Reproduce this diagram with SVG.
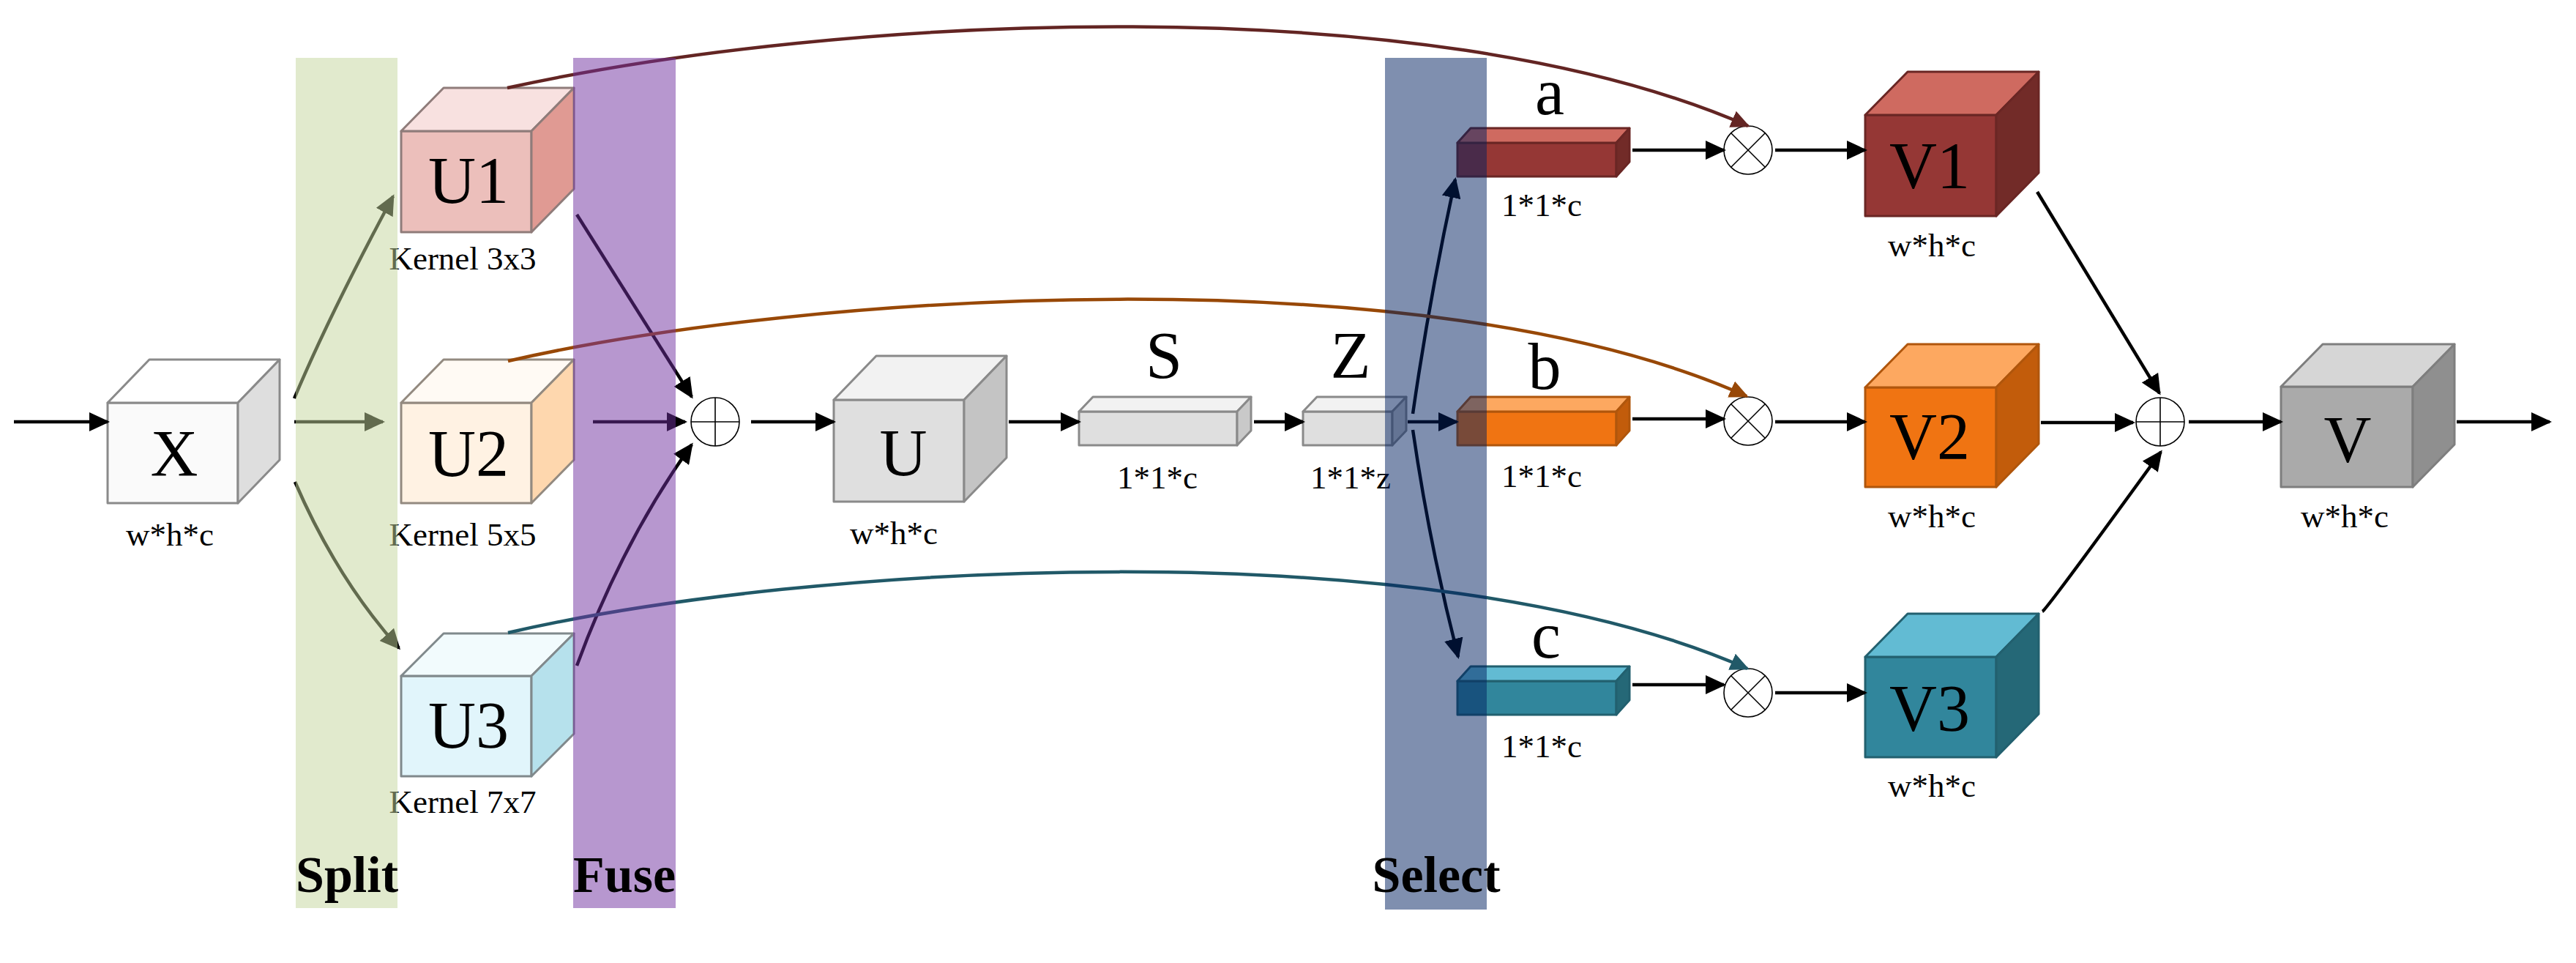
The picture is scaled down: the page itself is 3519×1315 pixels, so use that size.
<svg xmlns="http://www.w3.org/2000/svg" width="3519" height="1315" viewBox="0 0 3519 1315">
<defs>
<style>
.big{font-family:"Liberation Serif","Times New Roman",serif;font-size:90px;text-anchor:middle;fill:#000}
.small{font-family:"Liberation Serif","Times New Roman",serif;font-size:45px;text-anchor:middle;fill:#000}
.stage{font-family:"Liberation Serif","Times New Roman",serif;font-size:70px;font-weight:bold;text-anchor:middle;fill:#000}
.cube polygon,.cube rect{stroke-width:3;stroke-linejoin:round}
.grey polygon,.grey rect{stroke:#8a8a8a}
.arr{fill:none;stroke:#000;stroke-width:4.5;marker-end:url(#ah)}
.curve{fill:none;stroke-width:4.5}
.op{fill:#fff;stroke:#000;stroke-width:1.6}
.opl{stroke:#000;stroke-width:1.6}
.band{opacity:0.5}
</style>
<marker id="ah" markerUnits="userSpaceOnUse" markerWidth="28" markerHeight="26" refX="25" refY="13" orient="auto" viewBox="0 0 28 26"><path d="M0,0 L28,13 L0,26 z" fill="#000"/></marker>
<marker id="ahR" markerUnits="userSpaceOnUse" markerWidth="26" markerHeight="24" refX="23" refY="12" orient="auto" viewBox="0 0 26 24"><path d="M0,0 L26,12 L0,24 z" fill="#632523"/></marker>
<marker id="ahO" markerUnits="userSpaceOnUse" markerWidth="26" markerHeight="24" refX="23" refY="12" orient="auto" viewBox="0 0 26 24"><path d="M0,0 L26,12 L0,24 z" fill="#984807"/></marker>
<marker id="ahT" markerUnits="userSpaceOnUse" markerWidth="26" markerHeight="24" refX="23" refY="12" orient="auto" viewBox="0 0 26 24"><path d="M0,0 L26,12 L0,24 z" fill="#215968"/></marker>
</defs>
<rect width="3519" height="1315" fill="#fff"/>

<g id="node-X" class="cube grey">
<rect x="147" y="550" width="178" height="137" fill="#fafafa"/>
<polygon points="147,550 204,491 382,491 325,550" fill="#ffffff"/>
<polygon points="325,550 382,491 382,628 325,687" fill="#dedede"/>
<text class="big" x="238" y="650">X</text>
<text class="small" x="232" y="745">w*h*c</text>
</g>

<g id="node-U1" class="cube">
<rect x="548" y="179" width="178" height="138" fill="#ecbfbb" stroke="#8f7c7a"/>
<polygon points="548,179 606,120 784,120 726,179" fill="#f8e1e0" stroke="#8f7c7a"/>
<polygon points="726,179 784,120 784,258 726,317" fill="#e09a93" stroke="#8f7c7a"/>
<text class="big" x="640" y="277">U1</text>
<text class="small" x="632" y="368">Kernel 3x3</text>
</g>

<g id="node-U2" class="cube">
<rect x="548" y="550" width="178" height="137" fill="#fff2e3" stroke="#938a80"/>
<polygon points="548,550 606,491 784,491 726,550" fill="#fffaf4" stroke="#938a80"/>
<polygon points="726,550 784,491 784,628 726,687" fill="#fed7ae" stroke="#938a80"/>
<text class="big" x="640" y="650">U2</text>
<text class="small" x="632" y="745">Kernel 5x5</text>
</g>

<g id="node-U3" class="cube">
<rect x="548" y="923" width="178" height="137" fill="#e1f5fb" stroke="#80898c"/>
<polygon points="548,923 606,865 784,865 726,923" fill="#f2fbfd" stroke="#80898c"/>
<polygon points="726,923 784,865 784,1002 726,1060" fill="#b6e1ec" stroke="#80898c"/>
<text class="big" x="640" y="1021">U3</text>
<text class="small" x="632" y="1110">Kernel 7x7</text>
</g>

<g id="node-fuse-sum">
<circle class="op" cx="977" cy="576" r="33"/>
<line class="opl" x1="944" y1="576" x2="1010" y2="576"/>
<line class="opl" x1="977" y1="543" x2="977" y2="609"/>
</g>

<g id="node-U" class="cube grey">
<rect x="1139" y="546" width="178" height="139" fill="#dfdfdf"/>
<polygon points="1139,546 1197,486 1375,486 1317,546" fill="#f2f2f2"/>
<polygon points="1317,546 1375,486 1375,625 1317,685" fill="#c4c4c4"/>
<text class="big" x="1234" y="649">U</text>
<text class="small" x="1221" y="743">w*h*c</text>
</g>

<g id="node-S" class="cube grey">
<rect x="1474" y="562" width="216" height="46" fill="#dfdfdf"/>
<polygon points="1474,562 1493,542 1709,542 1690,562" fill="#f2f2f2"/>
<polygon points="1690,562 1709,542 1709,588 1690,608" fill="#c9c9c9"/>
<text class="big" x="1590" y="516">S</text>
<text class="small" x="1581" y="667">1*1*c</text>
</g>

<g id="node-Z" class="cube grey">
<rect x="1780" y="562" width="122" height="46" fill="#dfdfdf"/>
<polygon points="1780,562 1799,542 1921,542 1902,562" fill="#f2f2f2"/>
<polygon points="1902,562 1921,542 1921,588 1902,608" fill="#c9c9c9"/>
<text class="big" x="1845" y="516">Z</text>
<text class="small" x="1845" y="667">1*1*z</text>
</g>

<g id="node-a" class="cube">
<rect x="1991" y="195" width="217" height="46" fill="#953735" stroke="#6a2624"/>
<polygon points="1991,195 2009,175 2226,175 2208,195" fill="#cf6a60" stroke="#6a2624"/>
<polygon points="2208,195 2226,175 2226,221 2208,241" fill="#722b28" stroke="#6a2624"/>
<text class="big" x="2117" y="156">a</text>
<text class="small" x="2106" y="295">1*1*c</text>
</g>

<g id="node-b" class="cube">
<rect x="1991" y="562" width="217" height="46" fill="#f07412" stroke="#b0560c"/>
<polygon points="1991,562 2009,542 2226,542 2208,562" fill="#fda860" stroke="#b0560c"/>
<polygon points="2208,562 2226,542 2226,588 2208,608" fill="#c25c0b" stroke="#b0560c"/>
<text class="big" x="2110" y="531">b</text>
<text class="small" x="2106" y="665">1*1*c</text>
</g>

<g id="node-c" class="cube">
<rect x="1991" y="930" width="217" height="46" fill="#31869c" stroke="#22606f"/>
<polygon points="1991,930 2009,910 2226,910 2208,930" fill="#62bbd3" stroke="#22606f"/>
<polygon points="2208,930 2226,910 2226,956 2208,976" fill="#256877" stroke="#22606f"/>
<text class="big" x="2112" y="898">c</text>
<text class="small" x="2106" y="1034">1*1*c</text>
</g>

<g id="node-mul-a">
<circle class="op" cx="2388" cy="205" r="33"/>
<line class="opl" x1="2365" y1="182" x2="2411" y2="228"/>
<line class="opl" x1="2411" y1="182" x2="2365" y2="228"/>
</g>
<g id="node-mul-b">
<circle class="op" cx="2388" cy="575" r="33"/>
<line class="opl" x1="2365" y1="552" x2="2411" y2="598"/>
<line class="opl" x1="2411" y1="552" x2="2365" y2="598"/>
</g>
<g id="node-mul-c">
<circle class="op" cx="2388" cy="946" r="33"/>
<line class="opl" x1="2365" y1="923" x2="2411" y2="969"/>
<line class="opl" x1="2411" y1="923" x2="2365" y2="969"/>
</g>

<g id="node-V1" class="cube">
<rect x="2548" y="157" width="179" height="138" fill="#953735" stroke="#6a2624"/>
<polygon points="2548,157 2606,98 2785,98 2727,157" fill="#cf6a60" stroke="#6a2624"/>
<polygon points="2727,157 2785,98 2785,236 2727,295" fill="#722b28" stroke="#6a2624"/>
<text class="big" x="2636" y="257">V1</text>
<text class="small" x="2639" y="350">w*h*c</text>
</g>

<g id="node-V2" class="cube">
<rect x="2548" y="529" width="179" height="136" fill="#f07412" stroke="#b0560c"/>
<polygon points="2548,529 2606,470 2785,470 2727,529" fill="#fda860" stroke="#b0560c"/>
<polygon points="2727,529 2785,470 2785,606 2727,665" fill="#c25c0b" stroke="#b0560c"/>
<text class="big" x="2636" y="627">V2</text>
<text class="small" x="2639" y="720">w*h*c</text>
</g>

<g id="node-V3" class="cube">
<rect x="2548" y="897" width="179" height="137" fill="#31869c" stroke="#22606f"/>
<polygon points="2548,897 2606,838 2785,838 2727,897" fill="#62bbd3" stroke="#22606f"/>
<polygon points="2727,897 2785,838 2785,975 2727,1034" fill="#256877" stroke="#22606f"/>
<text class="big" x="2636" y="998">V3</text>
<text class="small" x="2639" y="1088">w*h*c</text>
</g>

<g id="node-final-sum">
<circle class="op" cx="2951" cy="576" r="33"/>
<line class="opl" x1="2918" y1="576" x2="2984" y2="576"/>
<line class="opl" x1="2951" y1="543" x2="2951" y2="609"/>
</g>

<g id="node-V" class="cube">
<rect x="3116" y="528" width="180" height="137" fill="#aaaaaa" stroke="#7e7e7e"/>
<polygon points="3116,528 3173,470 3353,470 3296,528" fill="#d6d6d6" stroke="#7e7e7e"/>
<polygon points="3296,528 3353,470 3353,607 3296,665" fill="#8f8f8f" stroke="#7e7e7e"/>
<text class="big" x="3207" y="631">V</text>
<text class="small" x="3203" y="720">w*h*c</text>
</g>

<g id="connectors">
<line class="arr" x1="19" y1="576" x2="147" y2="576"/>
<path class="arr" d="M402,544 Q450,430 537,268"/>
<line class="arr" x1="402" y1="576" x2="523" y2="576"/>
<path class="arr" d="M403,658 Q460,790 545,885"/>
<line class="arr" x1="788" y1="293" x2="945" y2="542"/>
<line class="arr" x1="810" y1="576" x2="936" y2="576"/>
<path class="arr" d="M788,909 Q850,740 945,607"/>
<line class="arr" x1="1026" y1="576" x2="1139" y2="576"/>
<line class="arr" x1="1378" y1="576" x2="1474" y2="576"/>
<line class="arr" x1="1713" y1="576" x2="1780" y2="576"/>
<line class="arr" x1="1923" y1="576" x2="1990" y2="576"/>
<path class="arr" d="M1930,565 Q1953,405 1988,245"/>
<path class="arr" d="M1930,587 Q1953,745 1992,897"/>
<line class="arr" x1="2230" y1="205" x2="2355" y2="205"/>
<line class="arr" x1="2425" y1="205" x2="2548" y2="205"/>
<line class="arr" x1="2230" y1="572" x2="2355" y2="572"/>
<line class="arr" x1="2425" y1="576" x2="2548" y2="576"/>
<line class="arr" x1="2230" y1="935" x2="2355" y2="935"/>
<line class="arr" x1="2425" y1="946" x2="2548" y2="946"/>
<line class="arr" x1="2783" y1="262" x2="2950" y2="537"/>
<line class="arr" x1="2788" y1="577" x2="2914" y2="577"/>
<path class="arr" d="M2790,835 Q2796,832 2952,617"/>
<line class="arr" x1="2990" y1="576" x2="3116" y2="576"/>
<line class="arr" x1="3356" y1="576" x2="3483" y2="576"/>
<path class="curve" stroke="#632523" marker-end="url(#ahR)" d="M693,120 C1150,20 1950,-20 2388,172"/>
<path class="curve" stroke="#984807" marker-end="url(#ahO)" d="M694,493 C1100,400 1950,345 2386,541"/>
<path class="curve" stroke="#215968" marker-end="url(#ahT)" d="M694,864 C1100,770 1950,720 2387,913"/>
</g>

<g id="stages">
<rect class="band" x="404" y="79" width="139" height="1161" fill="#c3d69b"/>
<rect class="band" x="783" y="79" width="140" height="1161" fill="#7030a0"/>
<rect class="band" x="1892" y="79" width="139" height="1163" fill="#002060"/>
<text class="stage" x="474" y="1218">Split</text>
<text class="stage" x="853" y="1218">Fuse</text>
<text class="stage" x="1962" y="1218">Select</text>
</g>
</svg>
